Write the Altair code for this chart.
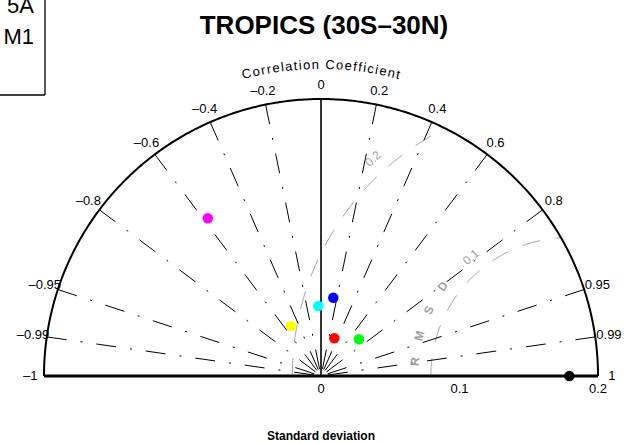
import math
import altair as alt
import pandas as pd

FONT = "Liberation Sans"

# ---------------- data ----------------
title_text = "TROPICS (30S–30N)"
legend_lines = ["5A", "M1"]

# correlation ticks on the outer arc
corr_values = [-1, -0.99, -0.95, -0.8, -0.6, -0.4, -0.2, 0, 0.2, 0.4, 0.6, 0.8, 0.95, 0.99, 1]
corr_labels = ["–1", "–0.99", "–0.95", "–0.8", "–0.6", "–0.4", "–0.2", "0",
               "0.2", "0.4", "0.6", "0.8", "0.95", "0.99", "1"]
# dash-dot correlation rays
ray_corr = [-0.99, -0.95, -0.8, -0.6, -0.4, -0.2, 0.2, 0.4, 0.6, 0.8, 0.95, 0.99]

# standard deviation axis
std_ticks = [0, 0.1, 0.2]
std_labels = ["0", "0.1", "0.2"]
std_max = 0.2

# centred RMS difference contours
rms_levels = [0.1, 0.2]
rms_labels = ["0.1", "0.2"]

# models (standard deviation, correlation); the black point is the reference
model_color = ["#ff00ff", "#0000ff", "#00ffff", "#ffff00", "#ff0000", "#00ff00", "#000000"]
model_std = [0.1402, 0.0572, 0.0506, 0.0421, 0.0289, 0.0381, 0.1793]
model_corr = [-0.583, 0.155, -0.039, -0.514, 0.333, 0.719, 1.0]
ref_std = model_std[-1]

# ---------------- layout ----------------
W, H = 626, 443
CX, CY = 321, 376          # pixel position of the origin
PX = 277 / std_max         # pixels per unit of standard deviation
GRAY = "#a0a0a0"
INK = "#000000"

xs = alt.Scale(domain=[-CX / PX, (W - CX) / PX], nice=False, zero=False)
ys = alt.Scale(domain=[(CY - H) / PX, CY / PX], nice=False, zero=False)


def X(f="x"):
    return alt.X(f, type="quantitative", scale=xs, axis=None)


def Y(f="y"):
    return alt.Y(f, type="quantitative", scale=ys, axis=None)


def polar(r, deg):
    a = math.radians(deg)
    return r * math.cos(a), r * math.sin(a)


def text_mark(size, color=INK, weight="normal", align="center", baseline="middle"):
    return dict(font=FONT, fontSize=size, fontWeight=weight, color=color, fill=color,
                align=align, baseline=baseline)


# outer arc
arc = pd.DataFrame([{"i": i, "x": polar(std_max, i * 0.5)[0], "y": polar(std_max, i * 0.5)[1]}
                    for i in range(361)])
arc_layer = alt.Chart(arc).mark_line(color=INK, strokeWidth=2).encode(
    x=X(), y=Y(), order="i:Q")

# correlation rays, drawn from the arc towards the origin
rays = pd.DataFrame({"x": [std_max * c for c in ray_corr],
                     "y": [std_max * math.sqrt(1 - c * c) for c in ray_corr],
                     "x0": 0.0, "y0": 0.0})
ray_layer = alt.Chart(rays).mark_rule(color=INK, strokeWidth=1,
                                      strokeDash=[20, 14, 2, 14]).encode(
    x=X(), y=Y(), x2="x0:Q", y2="y0:Q")

axes_df = pd.DataFrame({"x": [-std_max, 0.0], "y": [0.0, 0.0],
                        "x2": [std_max, 0.0], "y2": [0.0, std_max], "w": [3.0, 1.6]})
axes_layer = alt.Chart(axes_df).mark_rule(color=INK).encode(
    x=X(), y=Y(), x2="x2:Q", y2="y2:Q",
    strokeWidth=alt.StrokeWidth("w:Q", scale=None))

# RMS difference circles clipped to the half disc
rows = []
for lev in rms_levels:
    cos_end = (std_max ** 2 - ref_std ** 2 - lev ** 2) / (2 * ref_std * lev)
    end = math.degrees(math.acos(max(-1.0, min(1.0, cos_end))))
    n = 200
    for k in range(n + 1):
        phi = 180 - (180 - end) * k / n
        dx, dy = polar(lev, phi)
        rows.append({"lev": lev, "i": k, "x": ref_std + dx, "y": dy})
rms_df = pd.DataFrame(rows)
rms_layer = alt.Chart(rms_df).mark_line(color=GRAY, strokeWidth=1, strokeDash=[18, 16]).encode(
    x=X(), y=Y(), detail="lev:N", order="i:Q")

# contour labels and the RMSD caption along the 0.1 contour
rms_label_phi = [129.6, 132.1]
rl = []
for lev, lab, phi in zip(rms_levels, rms_labels, rms_label_phi):
    dx, dy = polar(lev + 0.0115, phi)
    rl.append({"x": ref_std + dx, "y": dy, "t": lab, "a": (90 - phi) % 360})
rms_lab_layer = alt.Chart(pd.DataFrame(rl)).mark_text(**text_mark(12, GRAY)).encode(
    x=X(), y=Y(), text="t:N", angle=alt.Angle("a:Q", scale=None))

caption_phi = [174.7, 165.0, 154.9, 144.7]
cap = []
for ch, phi in zip("RMSD", caption_phi):
    dx, dy = polar(0.112, phi)
    cap.append({"x": ref_std + dx, "y": dy, "t": ch, "a": (90 - phi) % 360})
caption_layer = alt.Chart(pd.DataFrame(cap)).mark_text(**text_mark(12, GRAY, "bold")).encode(
    x=X(), y=Y(), text="t:N", angle=alt.Angle("a:Q", scale=None))

# correlation tick labels
cl = pd.DataFrame({"x": [0.21 * c for c in corr_values],
                   "y": [0.21 * math.sqrt(max(0.0, 1 - c * c)) for c in corr_values],
                   "t": corr_labels})
corr_lab_layer = alt.Chart(cl).mark_text(**text_mark(13)).encode(
    x=X(), y=Y(), text="t:N")

# curved "Correlation Coefficient" caption
word = "Correlation Coefficient"
adv = {"C": 722, "o": 556, "r": 333, "e": 556, "l": 222, "a": 556, "t": 278,
       "i": 222, "n": 556, " ": 278, "f": 278, "c": 500}
fs, track, rc_px = 13, 1.4, 311
widths = [adv[ch] * fs / 1000 for ch in word]
centers, s = [], 0.0
for w in widths:
    centers.append(s + w / 2)
    s += w + track
total = s - track
cc = []
for ch, c in zip(word, centers):
    phi = 90 + math.degrees((total / 2 - c) / rc_px)
    px_, py_ = polar(rc_px / PX, phi)
    cc.append({"x": px_, "y": py_, "t": ch, "a": (90 - phi) % 360})
corr_title_layer = alt.Chart(pd.DataFrame(cc)).mark_text(**text_mark(fs)).encode(
    x=X(), y=Y(), text="t:N", angle=alt.Angle("a:Q", scale=None))

# standard deviation labels and axis title
sl = pd.DataFrame({"x": std_ticks, "t": std_labels})
std_lab_layer = alt.Chart(sl).mark_text(**text_mark(13)).encode(
    x=X(), y=alt.value(389), text="t:N")

std_title_layer = alt.Chart(pd.DataFrame({"t": ["Standard deviation"]})).mark_text(
    **text_mark(12, weight="bold")).encode(
    x=alt.value(CX), y=alt.value(436), text="t:N")

title_layer = alt.Chart(pd.DataFrame({"t": [title_text]})).mark_text(
    **text_mark(26, weight="bold", baseline="alphabetic")).encode(
    x=alt.value(324), y=alt.value(34), text="t:N")

# legend box in the corner
legend_df = pd.DataFrame({"t": legend_lines, "yy": [13, 44]})
legend_text = alt.Chart(legend_df).mark_text(
    **text_mark(22, align="right", baseline="alphabetic")).encode(
    x=alt.value(34), y=alt.Y("yy:Q", scale=None), text="t:N")
box_v = alt.Chart(pd.DataFrame({"k": [0]})).mark_rule(color=INK, strokeWidth=1.3).encode(
    x=alt.value(45), y=alt.value(0), y2=alt.value(95))
box_h = alt.Chart(pd.DataFrame({"k": [0]})).mark_rule(color=INK, strokeWidth=1.3).encode(
    x=alt.value(0), x2=alt.value(45), y=alt.value(95))

# model points
pts = pd.DataFrame({"x": [s_ * c for s_, c in zip(model_std, model_corr)],
                    "y": [s_ * math.sqrt(max(0.0, 1 - c * c)) for s_, c in zip(model_std, model_corr)],
                    "col": model_color})
pt_layer = alt.Chart(pts).mark_point(filled=True, size=110, opacity=1).encode(
    x=X(), y=Y(), color=alt.Color("col:N", scale=None))

chart = alt.layer(
    rms_layer, ray_layer, arc_layer, axes_layer,
    rms_lab_layer, caption_layer, corr_lab_layer, corr_title_layer,
    std_lab_layer, std_title_layer, title_layer,
    legend_text, box_v, box_h, pt_layer,
).properties(
    width=W, height=H, padding=0, autosize=alt.AutoSizeParams(type="none")
).configure_view(stroke=None)

chart.save("out.html", embed_options={"renderer": "svg", "actions": False})
